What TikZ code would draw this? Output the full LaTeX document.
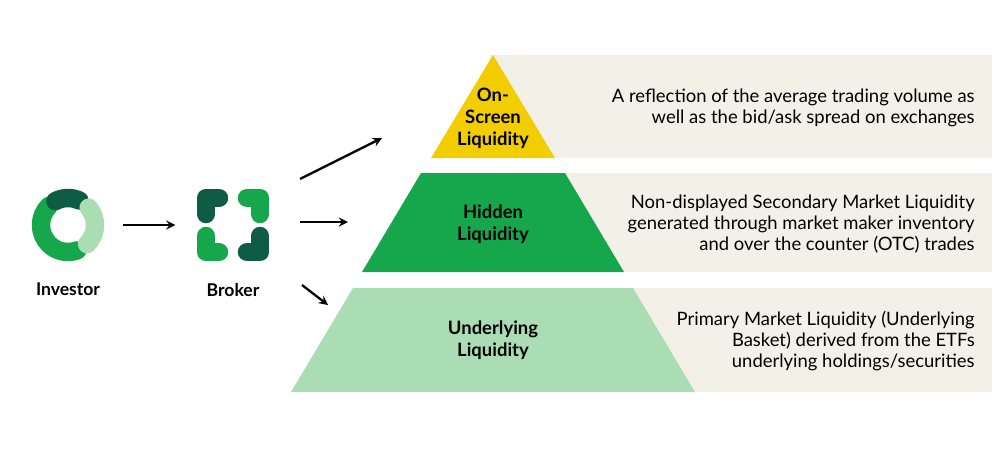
\documentclass[tikz,border=0pt]{standalone}
\usepackage{fontspec}
\setmainfont{Lato}
\usetikzlibrary{positioning}
\definecolor{gold}{HTML}{F2CD00}
\definecolor{midgreen}{HTML}{16A64C}
\definecolor{lightgreen}{HTML}{AADDB3}
\definecolor{darkgreen}{HTML}{0E5C43}
\definecolor{beige}{HTML}{F3F1E7}
\tikzset{
    band/.style={
        fill=beige, % 背景色带
        draw=none
    },
    levellabel/.style={
        font=\bfseries\fontsize{10.5}{12.5}\selectfont,
        align=center,
        inner sep=0
    },
    desc/.style={
        font=\fontsize{10.5}{11.9}\selectfont,
        align=right,
        anchor=east,
        inner sep=0
    },
    iconlabel/.style={
        font=\bfseries\fontsize{10}{12}\selectfont,
        inner sep=0
    },
    flow/.style={
        -stealth,
        line width=1.3pt
    },
    blob/.style={
        line width=10.5pt,
        line cap=round,
        line join=round
    }
}

\begin{document}
\begin{tikzpicture}[x=0.02cm, y=-0.02cm]
            \useasboundingbox (0,0) rectangle (1000,450);
            % 背景色带
            \fill[band] (490,55) rectangle (992,158);
            \fill[band] (490,173) rectangle (992,272);
            \fill[band] (490,288) rectangle (992,392);
            % 金字塔
            \fill[gold] (493,55) -- (555,158) -- (431,158) -- cycle;
            \fill[midgreen] (421,173) -- (565,173) -- (624,272) -- (362,272) -- cycle;
            \fill[lightgreen] (353,288) -- (633,288) -- (695,392) -- (291,392) -- cycle;
            \node[levellabel] (onscreen) at (493,118) {On-\\Screen\\Liquidity};
            \node[levellabel] (hidden) at (493,224) {Hidden\\Liquidity};
            \node[levellabel] (underlying) at (493,340) {Underlying\\Liquidity};
            % 说明文字
            \node[desc] (d1) at (975,108) {A reflection of the average trading volume as\\well as the bid/ask spread on exchanges};
            \node[desc] (d2) at (975,224) {Non-displayed Secondary Market Liquidity\\generated through market maker inventory\\and over the counter (OTC) trades};
            \node[desc] (d3) at (975,341) {Primary Market Liquidity (Underlying\\Basket) derived from the ETFs\\underlying holdings/securities};
            % 投资者图标
            \draw[blob, midgreen] (68,225) ++(-135:27) arc (-135:-290:27);
            \draw[blob, darkgreen] (68,225) ++(-65:27) arc (-65:-118:27);
            \draw[blob, lightgreen] (68,225) ++(-40:27) arc (-40:45:27);
            \node[inner sep=0, minimum size=76*0.02cm] (investor) at (68,225) {};
            \node[iconlabel, below=11pt of investor.south] (invlabel) {Investor};
            % 经纪商图标
            \draw[blob, darkgreen] (206,214) -- (206,198) -- (219,198);
            \draw[blob, midgreen] (247,198) -- (260,198) -- (260,214);
            \draw[blob, midgreen] (206,236) -- (206,252) -- (219,252);
            \draw[blob, darkgreen] (247,252) -- (260,252) -- (260,236);
            \node[inner sep=0, minimum size=76*0.02cm] (broker) at (233,225) {};
            \node[iconlabel, below=11pt of broker.south] (brklabel) {Broker};
            % 箭头
            \coordinate (up) at (382,138);
            \coordinate (mid) at (348,222);
            \coordinate (down) at (328,305);
            \draw[flow] (investor.east) ++(17,0) coordinate (s0) -- ++(52,0) coordinate (e0);
            \draw[flow] (300,179) coordinate (s1) -- (up);
            \draw[flow] (300,222) coordinate (s2) -- (mid);
            \draw[flow] (302,285) coordinate (s3) -- (down);
\end{tikzpicture}
\end{document}
